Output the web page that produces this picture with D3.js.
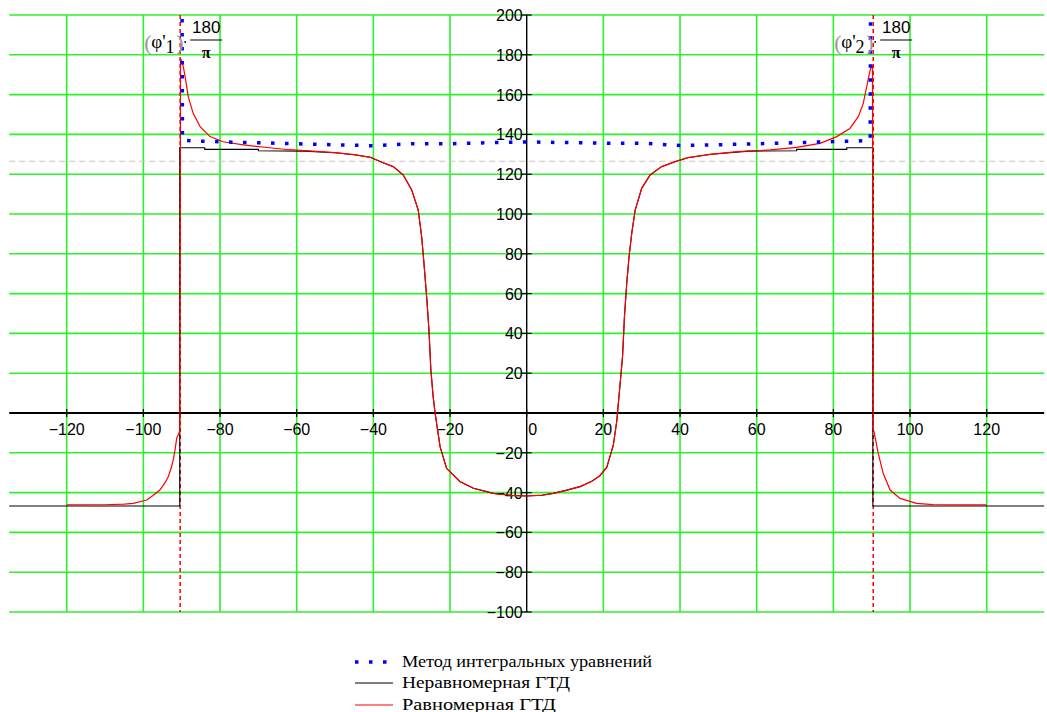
<!DOCTYPE html>
<html>
<head>
<meta charset="utf-8">
<script src="https://cdn.jsdelivr.net/npm/d3@7"></script>
<style>
  html, body { margin: 0; padding: 0; background: #fff; }
  svg { display: block; }
</style>
</head>
<body>
<svg id="chart" width="1047" height="712"></svg>
<script>
// Angle axis (degrees) and value axis ticks
const xTicks = [-120, -100, -80, -60, -40, -20, 0, 20, 40, 60, 80, 100, 120];
const yTicks = [-100, -80, -60, -40, -20, 0, 20, 40, 60, 80, 100, 120, 140, 160, 180, 200];

// Marker lines
const markerX = [-90.4, 90.4];
const markerY = 126.5;

// "Метод интегральных уравнений"
const blueX = [-89.9, -89.8, -85, -80, -75, -70, -60, -50, -40, -30, -20, -10, 0, 10, 20, 30, 40, 50, 60, 70, 80, 85, 89.6, 89.7];
const blueY = [198, 137, 136.6, 136.3, 136.0, 135.8, 135.3, 134.8, 134.3, 135.3, 135.3, 135.8, 136.2, 135.9, 135.6, 135.6, 134.4, 134.8, 135.3, 135.8, 136.4, 136.6, 137, 198];

// "Неравномерная ГТД"
const blackX = [-135, -90.5, -90.5, -84, -84, -70, -70, -58, -50, -45, -40.8, -37.8, -34.8, -32.2, -30.0, -28.3, -27.4, -26.8, -26.1, -25.5, -25.0, -24.4, -23.9, -22.6, -20.9, -17.4, -13.9, -8.7, -4, 0, 4, 6.9, 10, 13.9, 17, 19.1, 20.9, 22.6, 23.5, 24.3, 25.0, 25.5, 26.1, 26.7, 27.4, 28.3, 30.0, 32.2, 35.2, 38.7, 42, 48, 58, 70.4, 70.4, 83.5, 83.5, 90.3, 90.3, 135];
const blackY = [-46.7, -46.7, 133.3, 133.3, 132.5, 132.5, 131.8, 131.6, 130.8, 129.8, 128.5, 126.0, 123.8, 119.6, 112.1, 102, 88.6, 75.2, 58.4, 41.7, 21.6, 8.2, 0, -16.9, -27.8, -34.5, -37.8, -40.4, -41.4, -41.7, -41.3, -40.4, -39, -37, -34.3, -31.5, -27.2, -16.2, -4, 13.2, 28.3, 48.4, 65.2, 78.5, 90.3, 102, 112.9, 119.6, 123.8, 126.3, 128.3, 130, 131.6, 131.8, 132.5, 132.5, 133.3, 133.3, -46.7, -46.7];

// "Равномерная ГТД"
const redX = [-120, -110, -105, -102.6, -99.1, -97.5, -95.7, -94.5, -93.5, -92.8, -92.2, -91.7, -91.3, -90.5, -90.3, -89.8, -89.1, -88.3, -87, -85.2, -82.6, -79.2, -73.9, -67, -62, -55, -50, -45, -40.8, -37.8, -34.8, -32.2, -30.0, -28.3, -27.4, -26.8, -26.1, -25.5, -25.0, -24.4, -23.9, -22.6, -20.9, -17.4, -13.9, -8.7, -4, 0, 4, 6.9, 10, 13.9, 17, 19.1, 20.9, 22.6, 23.5, 24.3, 25.0, 25.5, 26.1, 26.7, 27.4, 28.3, 30.0, 32.2, 35.2, 38.7, 42, 48, 55, 63.5, 70.4, 76.5, 80.9, 84.3, 86.5, 87.8, 88.7, 89.6, 90.2, 90.4, 90.6, 91.7, 93, 94.8, 97.4, 101.7, 106, 113, 120];
const redY = [-46.2, -46.1, -45.8, -45.4, -43.7, -41.5, -38.7, -35.5, -32, -28, -23.6, -18, -12.7, -9, 178, 176, 169, 159, 150.6, 143.9, 138.9, 136.3, 134.7, 133.3, 132.3, 131.5, 130.8, 129.8, 128.5, 126.0, 123.8, 119.6, 112.1, 102, 88.6, 75.2, 58.4, 41.7, 21.6, 8.2, 0, -16.9, -27.8, -34.5, -37.8, -40.4, -41.4, -41.7, -41.3, -40.4, -39, -37, -34.3, -31.5, -27.2, -16.2, -4, 13.2, 28.3, 48.4, 65.2, 78.5, 90.3, 102, 112.9, 119.6, 123.8, 126.3, 128.3, 130, 131.3, 132.2, 133.5, 135.5, 138.9, 143, 148.9, 155.6, 164, 172.4, 175, -8, -9.4, -20.3, -30.3, -38.7, -42.9, -45.4, -46, -46.2, -46.2];

const legendLabels = ["Метод интегральных уравнений", "Неравномерная ГТД", "Равномерная ГТД"];
const legendWidths = [250, 168, 154];

const svg = d3.select("#chart");
const x = d3.scaleLinear().domain([-135, 135]).range([9.2, 1044.2]);
const y = d3.scaleLinear().domain([-100, 200]).range([612, 15]);

const zip = (xs, ys) => xs.map((v, i) => [v, ys[i]]);
const line = d3.line().x(d => x(d[0])).y(d => y(d[1]));

// grid
const grid = svg.append("g").attr("stroke", "#2ef02e").attr("stroke-width", 1.6);
grid.selectAll("line.v").data(xTicks.filter(t => t !== 0)).join("line")
  .attr("x1", d => x(d)).attr("x2", d => x(d))
  .attr("y1", y(200)).attr("y2", y(-100));
grid.selectAll("line.h").data(yTicks.filter(t => t !== 0)).join("line")
  .attr("x1", x(-135)).attr("x2", x(135))
  .attr("y1", d => y(d)).attr("y2", d => y(d));

// grey reference level
svg.append("line")
  .attr("x1", x(-135)).attr("x2", x(135))
  .attr("y1", y(markerY)).attr("y2", y(markerY))
  .attr("stroke", "#c4c4c4").attr("stroke-width", 1).attr("stroke-dasharray", "6,4");

// axes
const axes = svg.append("g").attr("stroke", "#000");
axes.append("line").attr("x1", x(-135)).attr("x2", x(135))
  .attr("y1", y(0)).attr("y2", y(0)).attr("stroke-width", 1.8);
axes.append("line").attr("x1", x(0)).attr("x2", x(0))
  .attr("y1", y(200)).attr("y2", y(-100)).attr("stroke-width", 1.4);
axes.selectAll("line.xt").data(xTicks).join("line")
  .attr("x1", d => x(d)).attr("x2", d => x(d))
  .attr("y1", y(0) - 4).attr("y2", y(0) + 4).attr("stroke-width", 1.2);
axes.selectAll("line.yt").data(yTicks).join("line")
  .attr("x1", x(0) - 5).attr("x2", x(0) + 5)
  .attr("y1", d => y(d)).attr("y2", d => y(d)).attr("stroke-width", 1.2);

const fmt = v => (v < 0 ? "\u2212" + Math.abs(v) : String(v));
const labelFont = "'Liberation Sans', Arial, sans-serif";
svg.append("g").selectAll("text").data(xTicks).join("text")
  .attr("x", d => d === 0 ? x(d) + 6 : x(d))
  .attr("y", y(0) + 22)
  .attr("text-anchor", "middle")
  .attr("font-family", labelFont).attr("font-size", 16).attr("fill", "#000")
  .text(fmt);
svg.append("g").selectAll("text").data(yTicks.filter(t => t !== 0)).join("text")
  .attr("x", x(0) - 4)
  .attr("y", d => y(d) + 6)
  .attr("text-anchor", "end")
  .attr("font-family", labelFont).attr("font-size", 16).attr("fill", "#000")
  .text(fmt);

// singular angle markers
svg.append("g").selectAll("line").data(markerX).join("line")
  .attr("x1", d => x(d)).attr("x2", d => x(d))
  .attr("y1", y(200)).attr("y2", y(-100))
  .attr("stroke", "#ff0000").attr("stroke-width", 1.5).attr("stroke-dasharray", "4,3");

// curves
const blackPts = zip(blackX, blackY);
svg.append("path").attr("d", line(blackPts))
  .attr("fill", "none").attr("stroke", "#000").attr("stroke-width", 1.1);
svg.append("path").attr("d", line(blackPts.filter(p => p[0] <= -120)))
  .attr("fill", "none").attr("stroke", "#000").attr("stroke-width", 2);
svg.append("path").attr("d", line(blackPts.filter(p => p[0] >= 120)))
  .attr("fill", "none").attr("stroke", "#000").attr("stroke-width", 2);
svg.append("path").attr("d", line(zip(redX, redY)))
  .attr("fill", "none").attr("stroke", "#ff0000").attr("stroke-width", 1.2);
svg.append("path").attr("d", line(zip(blueX, blueY)))
  .attr("fill", "none").attr("stroke", "#0000ff").attr("stroke-width", 3.5)
  .attr("stroke-dasharray", "3.5,10.5");

// trace expressions above the singular angles
function traceLabel(xv, idx) {
  const g = svg.append("g").attr("transform", `translate(${x(xv)},0)`);
  const serif = "'Liberation Serif', 'Times New Roman', serif";
  g.append("text").attr("x", -36).attr("y", 50)
    .attr("font-family", serif).attr("font-size", 22).attr("fill", "#999").text("(");
  const t = g.append("text").attr("x", -29).attr("y", 48)
    .attr("font-family", serif).attr("font-size", 19).attr("fill", "#000");
  t.append("tspan").text("\u03C6'");
  t.append("tspan").attr("dy", 5).attr("font-size", 18).text(idx);
  g.append("text").attr("x", -4).attr("y", 50)
    .attr("font-family", serif).attr("font-size", 22).attr("fill", "#999").text(")");
  g.append("circle").attr("cx", 5).attr("cy", 42).attr("r", 0.9).attr("fill", "#000");
  g.append("text").attr("x", 26).attr("y", 33).attr("text-anchor", "middle")
    .attr("font-family", labelFont).attr("font-size", 17).attr("fill", "#000").text("180");
  g.append("line").attr("x1", 10).attr("x2", 42).attr("y1", 40).attr("y2", 40)
    .attr("stroke", "#000").attr("stroke-width", 1.2);
  g.append("text").attr("x", 26).attr("y", 58).attr("text-anchor", "middle")
    .attr("font-family", serif).attr("font-size", 16).attr("font-weight", "bold").attr("fill", "#000").text("\u03C0");
}
traceLabel(-90.4, "1");
traceLabel(89.6, "2");

// legend
const legend = svg.append("g").attr("font-family", "'Liberation Serif', 'Times New Roman', serif")
  .attr("font-size", 16).attr("fill", "#000");
const legY = [662, 683, 705];
legend.append("line").attr("x1", 355).attr("x2", 393).attr("y1", legY[0]).attr("y2", legY[0])
  .attr("stroke", "#0000ff").attr("stroke-width", 3.5).attr("stroke-dasharray", "3.5,10.5");
legend.append("line").attr("x1", 355).attr("x2", 393).attr("y1", legY[1]).attr("y2", legY[1])
  .attr("stroke", "#000").attr("stroke-width", 1);
legend.append("line").attr("x1", 355).attr("x2", 393).attr("y1", legY[2]).attr("y2", legY[2])
  .attr("stroke", "#ff0000").attr("stroke-width", 1);
legend.selectAll("text").data(legendLabels).join("text")
  .attr("x", 402).attr("y", (d, i) => legY[i] + 5)
  .attr("textLength", (d, i) => legendWidths[i])
  .attr("lengthAdjust", "spacingAndGlyphs")
  .text(d => d);
</script>
</body>
</html>
